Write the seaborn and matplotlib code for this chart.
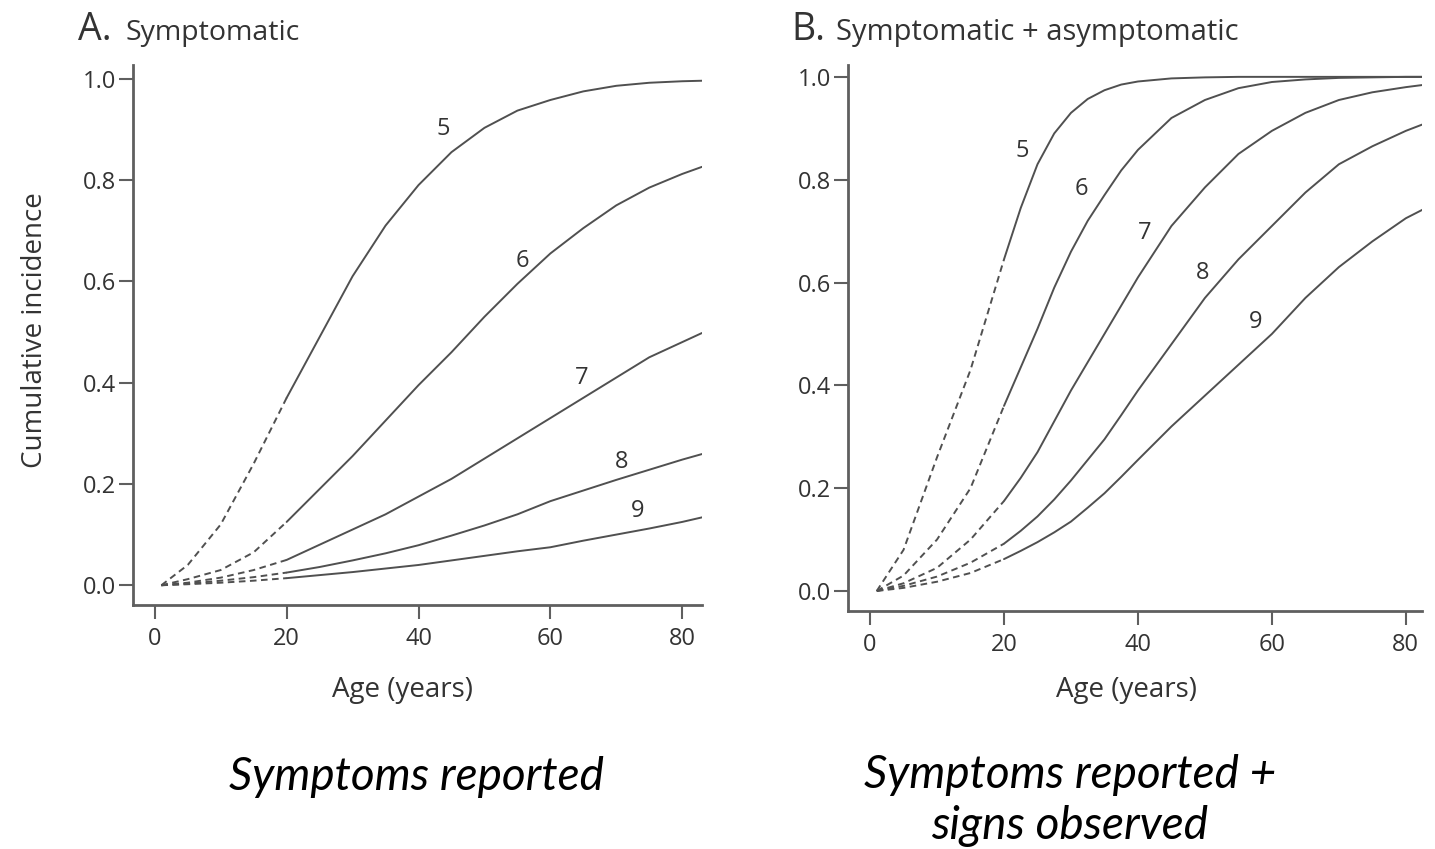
import numpy as np
import pandas as pd
import matplotlib
matplotlib.use("Agg")
import matplotlib.pyplot as plt
import seaborn as sns

# ---------------- data ----------------
grades = ["5", "6", "7", "8", "9"]

ages_a = [1, 5, 10, 15, 20, 25, 30, 35, 40, 45, 50, 55, 60, 65, 70, 75, 80, 83]
a5 = [0.0, 0.04, 0.12, 0.24, 0.37, 0.49, 0.61, 0.71, 0.79, 0.855, 0.903, 0.937, 0.958, 0.975, 0.986, 0.992, 0.995, 0.996]
a6 = [0.0, 0.012, 0.03, 0.065, 0.125, 0.19, 0.255, 0.325, 0.395, 0.46, 0.53, 0.595, 0.655, 0.705, 0.75, 0.785, 0.812, 0.826]
a7 = [0.0, 0.005, 0.015, 0.03, 0.05, 0.08, 0.11, 0.14, 0.175, 0.21, 0.25, 0.29, 0.33, 0.37, 0.41, 0.45, 0.48, 0.498]
a8 = [0.0, 0.003, 0.009, 0.016, 0.025, 0.036, 0.049, 0.063, 0.079, 0.098, 0.118, 0.14, 0.166, 0.187, 0.208, 0.228, 0.248, 0.259]
a9 = [0.0, 0.002, 0.005, 0.009, 0.014, 0.02, 0.026, 0.033, 0.04, 0.049, 0.058, 0.067, 0.075, 0.088, 0.1, 0.112, 0.125, 0.134]

ages_b = [1, 5, 10, 15, 20, 22.5, 25, 27.5, 30, 32.5, 35, 37.5, 40, 45, 50, 55, 60, 65, 70, 75, 80, 83]
b5 = [0.0, 0.08, 0.26, 0.43, 0.645, 0.745, 0.83, 0.89, 0.93, 0.957, 0.974, 0.985, 0.991, 0.997, 0.999, 1.0, 1.0, 1.0, 1.0, 1.0, 1.0, 1.0]
b6 = [0.0, 0.03, 0.10, 0.20, 0.36, 0.435, 0.51, 0.59, 0.66, 0.72, 0.77, 0.818, 0.858, 0.92, 0.955, 0.978, 0.99, 0.995, 0.998, 0.999, 1.0, 1.0]
b7 = [0.0, 0.015, 0.045, 0.10, 0.175, 0.22, 0.27, 0.33, 0.39, 0.445, 0.50, 0.555, 0.61, 0.71, 0.785, 0.85, 0.895, 0.93, 0.955, 0.97, 0.98, 0.985]
b8 = [0.0, 0.01, 0.028, 0.055, 0.092, 0.117, 0.145, 0.178, 0.215, 0.255, 0.295, 0.342, 0.39, 0.48, 0.57, 0.645, 0.71, 0.775, 0.83, 0.865, 0.895, 0.91]
b9 = [0.0, 0.006, 0.018, 0.035, 0.062, 0.078, 0.095, 0.114, 0.135, 0.162, 0.19, 0.222, 0.255, 0.32, 0.38, 0.44, 0.50, 0.57, 0.63, 0.68, 0.725, 0.745]

dash_until = 20  # age up to which the curves are extrapolated (dashed)

x_ticks = [0, 20, 40, 60, 80]
y_ticks = [0.0, 0.2, 0.4, 0.6, 0.8, 1.0]

title_a = ("A.", "Symptomatic")
title_b = ("B.", "Symptomatic + asymptomatic")
y_label = "Cumulative incidence"
x_label = "Age (years)"
caption_a = "Symptoms reported"
caption_b = ["Symptoms reported +", "signs observed"]

# curve label anchor points (data coords)
lab_a_x = [43.7, 55.8, 64.8, 70.8, 73.3]
lab_a_y = [0.90, 0.64, 0.41, 0.243, 0.146]
lab_b_x = [22.7, 31.6, 41.0, 49.6, 57.5]
lab_b_y = [0.856, 0.782, 0.697, 0.619, 0.523]

# ---------------- style ----------------
sns.set_theme(style="ticks")
plt.rcParams['font.family'] = ['Open Sans', 'DejaVu Sans']

LINE = "#505050"
SPINE = "#5f5f5f"
TEXT = "#333333"

fig = plt.figure(figsize=(14.35, 8.49), dpi=100)
fig.patch.set_facecolor("white")
axA = fig.add_axes([0.0927, 0.2874, 0.3965, 0.636])
axB = fig.add_axes([0.5909, 0.2803, 0.4000, 0.6431])


def long_frame(ages, curves):
    rows = []
    for g, vals in zip(grades, curves):
        for a, v in zip(ages, vals):
            rows.append((a, v, g))
    return pd.DataFrame(rows, columns=["age", "inc", "grade"])


def draw(ax, ages, curves, lx, ly, xlim, ylim):
    df = long_frame(ages, curves)
    dashed = df[df["age"] <= dash_until]
    solid = df[df["age"] >= dash_until]
    sns.lineplot(data=dashed, x="age", y="inc", units="grade", estimator=None,
                 ax=ax, color=LINE, lw=1.4, linestyle=(0, (3.4, 2.3)), sort=True)
    sns.lineplot(data=solid, x="age", y="inc", units="grade", estimator=None,
                 ax=ax, color=LINE, lw=1.4, sort=True)
    for g, x, y in zip(grades, lx, ly):
        ax.text(x, y, g, fontsize=17, color=TEXT, ha="center", va="center")
    ax.set_xlim(*xlim)
    ax.set_ylim(*ylim)
    ax.set_xticks(x_ticks)
    ax.set_yticks(y_ticks)
    ax.set_yticklabels([f"{v:.1f}" for v in y_ticks])
    ax.set_xlabel("")
    ax.set_ylabel("")
    sns.despine(ax=ax)
    for s in ("left", "bottom"):
        ax.spines[s].set_color(SPINE)
        ax.spines[s].set_linewidth(2.0)
    ax.tick_params(axis="both", direction="out", length=10, width=1.5,
                   color=SPINE, labelcolor=TEXT, labelsize=17)
    ax.tick_params(axis="y", pad=2)
    ax.tick_params(axis="x", pad=6)
    ax.set_facecolor("white")


draw(axA, ages_a, [a5, a6, a7, a8, a9], lab_a_x, lab_a_y, (-3.3, 83.0), (-0.039, 1.027))
draw(axB, ages_b, [b5, b6, b7, b8, b9], lab_b_x, lab_b_y, (-3.3, 82.4), (-0.039, 1.023))

W, H = 1435.0, 849.0


def fx(px):
    return px / W


def fy(py):
    return 1 - py / H


# panel titles
fig.text(fx(78), fy(40), title_a[0], fontsize=27, color=TEXT, va="baseline", ha="left")
fig.text(fx(125), fy(40), title_a[1], fontsize=20.5, color=TEXT, va="baseline", ha="left")
fig.text(fx(791), fy(40), title_b[0], fontsize=27, color=TEXT, va="baseline", ha="left")
fig.text(fx(836), fy(40), title_b[1], fontsize=21, color=TEXT, va="baseline", ha="left")

# axis labels
fig.text(fx(35), fy(330), y_label, fontsize=20, color=TEXT, rotation=90, ha="center", va="center")
fig.text(fx(403), fy(690), x_label, fontsize=20, color=TEXT, ha="center", va="center")
fig.text(fx(1127), fy(690), x_label, fontsize=20, color=TEXT, ha="center", va="center")

# captions
cap_font = dict(fontsize=33, style="italic", family=["Lato", "DejaVu Sans"],
                color="black", ha="center", va="center")
fig.text(fx(416), fy(777), caption_a, **cap_font)
fig.text(fx(1070), fy(775), caption_b[0], **cap_font)
fig.text(fx(1070), fy(826), caption_b[1], **cap_font)

fig.savefig("out.png", dpi=100, facecolor="white")
